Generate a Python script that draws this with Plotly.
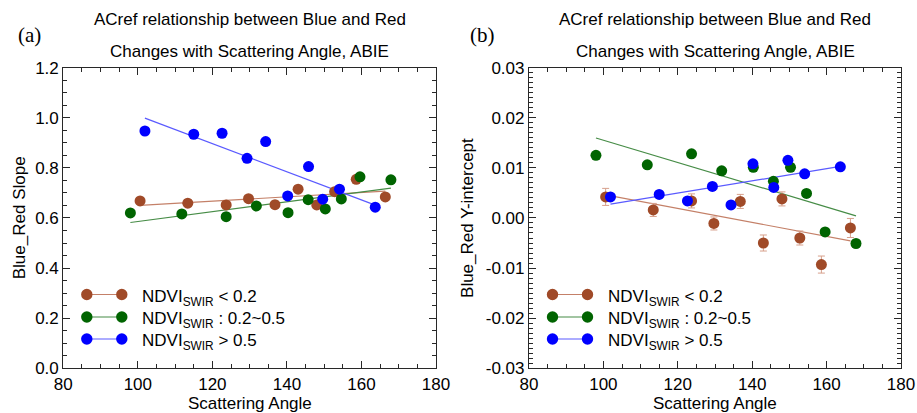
import numpy as np
import plotly.graph_objects as go

# ---------------- data ----------------
x_brown = [100.6, 113.4, 123.7, 129.7, 136.8, 143.0, 148.0, 152.8, 158.6, 166.4]
x_green = [98.0, 111.8, 123.7, 131.8, 140.3, 145.7, 150.3, 154.6, 159.6, 167.9]
x_blue = [101.9, 115.0, 122.6, 129.3, 134.3, 140.2, 145.8, 149.6, 154.1, 163.7]

slope_brown = [0.668, 0.659, 0.652, 0.677, 0.653, 0.715, 0.652, 0.705, 0.754, 0.684]
slope_green = [0.620, 0.616, 0.605, 0.648, 0.621, 0.673, 0.636, 0.676, 0.764, 0.752]
slope_blue = [0.947, 0.934, 0.938, 0.838, 0.905, 0.688, 0.805, 0.675, 0.715, 0.643]

icpt_brown = [0.0042, 0.0016, 0.0034, -0.0011, 0.0033, -0.0050, 0.0038, -0.0040, -0.0093, -0.0020]
icpt_brown_err = [0.0017, 0.0013, 0.0014, 0.0013, 0.0014, 0.0016, 0.0014, 0.0014, 0.0017, 0.0019]
icpt_green = [0.0125, 0.0106, 0.0128, 0.0094, 0.0101, 0.0073, 0.0101, 0.0049, -0.0028, -0.0051]
icpt_blue = [0.0042, 0.0047, 0.0034, 0.0063, 0.0026, 0.0108, 0.0061, 0.0115, 0.0088, 0.0102]

legend_labels = ["NDVI<sub>SWIR</sub> &lt; 0.2",
                 "NDVI<sub>SWIR</sub> : 0.2~0.5",
                 "NDVI<sub>SWIR</sub> &gt; 0.5"]
title_lines = ["ACref relationship between Blue and Red",
               "Changes with Scattering Angle, ABIE"]
panel_tags = ["(a)", "(b)"]
ytitles = ["Blue_Red Slope", "Blue_Red Y-intercept"]
xtitle = "Scattering Angle"

y1_ticks = [0.0, 0.2, 0.4, 0.6, 0.8, 1.0, 1.2]
y2_ticks = [-0.03, -0.02, -0.01, 0.0, 0.01, 0.02, 0.03]
y2_ticktext = ["-0.03", "-0.02", "-0.01", "0.00", "0.01", "0.02", "0.03"]

# ---------------- style ----------------
W, H = 917, 413
FONT = "Liberation Sans, Arial, Helvetica, sans-serif"
FS = 17
mk_colors = ["rgb(160,74,40)", "rgb(0,100,0)", "rgb(0,0,255)"]
ln_colors = ["rgb(196,128,104)", "rgb(70,140,70)", "rgb(90,90,255)"]
err_color = "rgb(215,160,140)"

# plot frames in pixels
L1, R1 = 63.3, 436.0
L2, R2 = 529.0, 901.0
TOP, BOT = 67.6, 368.3


def fx(p):
    return p / W


def fy(p):
    return 1 - p / H


fig = go.Figure()

panels = [
    ("x", "y", [x_brown, x_green, x_blue], [slope_brown, slope_green, slope_blue], [None, None, None]),
    ("x2", "y2", [x_brown, x_green, x_blue], [icpt_brown, icpt_green, icpt_blue], [icpt_brown_err, None, None]),
]

for xa, ya, xs, ys, errs in panels:
    for i in range(3):
        x = np.array(xs[i])
        y = np.array(ys[i])
        k, b = np.polyfit(x, y, 1)
        xl = np.array([x.min(), x.max()])
        fig.add_trace(go.Scatter(x=xl, y=k * xl + b, mode="lines",
                                 line=dict(color=ln_colors[i], width=1.2),
                                 xaxis=xa, yaxis=ya, showlegend=False, hoverinfo="skip"))
    for i in range(3):
        tr = dict(x=xs[i], y=ys[i], mode="markers",
                  marker=dict(color=mk_colors[i], size=11, line=dict(width=0)),
                  xaxis=xa, yaxis=ya, showlegend=False)
        if errs[i] is not None:
            tr["error_y"] = dict(type="data", array=errs[i], color=err_color,
                                 thickness=1, width=3.5)
        fig.add_trace(go.Scatter(**tr))

axis_common = dict(showline=True, linecolor="rgb(40,40,40)", linewidth=1.2, mirror="allticks",
                   ticks="inside", ticklen=7, tickcolor="rgb(40,40,40)", showgrid=False,
                   zeroline=False, automargin=False,
                   tickfont=dict(family=FONT, size=FS, color="black"))

fig.update_layout(
    width=W, height=H, margin=dict(l=0, r=0, t=0, b=0, pad=0, autoexpand=False),
    paper_bgcolor="white", plot_bgcolor="white", showlegend=False,
    xaxis=dict(domain=[fx(L1), fx(R1)], range=[80, 180], dtick=20, tick0=80, anchor="y",
               minor=dict(dtick=5, ticklen=4, ticks="inside", tickcolor="rgb(40,40,40)"), **axis_common),
    yaxis=dict(domain=[fy(BOT), fy(TOP)], range=[0, 1.2], tickvals=y1_ticks,
               tickformat=".1f", anchor="x",
               minor=dict(dtick=0.05, tick0=0, ticklen=4, ticks="inside", tickcolor="rgb(40,40,40)"),
               **axis_common),
    xaxis2=dict(domain=[fx(L2), fx(R2)], range=[80, 180], dtick=20, tick0=80, anchor="y2",
                minor=dict(dtick=5, ticklen=4, ticks="inside", tickcolor="rgb(40,40,40)"), **axis_common),
    yaxis2=dict(domain=[fy(BOT), fy(TOP)], range=[-0.03, 0.03], tickvals=y2_ticks,
                ticktext=y2_ticktext, anchor="x2",
                minor=dict(dtick=0.001, tick0=0, ticklen=4, ticks="inside", tickcolor="rgb(40,40,40)"),
                **axis_common),
)

ann = []
shapes = []
for p, (L, R) in enumerate([(L1, R1), (L2, R2)]):
    cx = (L + R) / 2
    ann.append(dict(x=fx(cx), y=fy(20), xref="paper", yref="paper", text=title_lines[0],
                    showarrow=False, xanchor="center", yanchor="middle",
                    font=dict(family=FONT, size=FS, color="black")))
    ann.append(dict(x=fx(cx), y=fy(52), xref="paper", yref="paper", text=title_lines[1],
                    showarrow=False, xanchor="center", yanchor="middle",
                    font=dict(family=FONT, size=FS, color="black")))
    ann.append(dict(x=fx(cx), y=fy(403), xref="paper", yref="paper", text=xtitle,
                    showarrow=False, xanchor="center", yanchor="middle",
                    font=dict(family=FONT, size=FS, color="black")))
    ann.append(dict(x=fx(L - 43 if p == 0 else L - 61), y=fy((TOP + BOT) / 2), xref="paper", yref="paper",
                    text=ytitles[p], textangle=-90, showarrow=False,
                    xanchor="center", yanchor="middle",
                    font=dict(family=FONT, size=FS, color="black")))
    ann.append(dict(x=fx(L - 34 if p == 0 else L - 47), y=fy(35), xref="paper", yref="paper",
                    text=panel_tags[p], showarrow=False, xanchor="center", yanchor="middle",
                    font=dict(family="Liberation Serif, Times New Roman, serif", size=21, color="black")))
    # legend
    rows = [294.5, 317.0, 339.0]
    for i in range(3):
        yy = rows[i]
        xa_, xb_ = L + 23.5, L + 58.5
        shapes.append(dict(type="line", xref="paper", yref="paper",
                           x0=fx(xa_), x1=fx(xb_), y0=fy(yy), y1=fy(yy),
                           line=dict(color=ln_colors[i], width=1.2)))
        r = 5.7
        for cxm in (xa_, xb_):
            shapes.append(dict(type="circle", xref="paper", yref="paper",
                               x0=fx(cxm - r), x1=fx(cxm + r), y0=fy(yy + r), y1=fy(yy - r),
                               fillcolor=mk_colors[i], line=dict(width=0)))
        ann.append(dict(x=fx(L + 76.5), y=fy(yy + 3), xref="paper", yref="paper",
                        text=legend_labels[i], showarrow=False, xanchor="left", yanchor="middle",
                        font=dict(family=FONT, size=FS, color="black")))

fig.update_layout(annotations=ann, shapes=shapes)
fig.write_html("out.html")
